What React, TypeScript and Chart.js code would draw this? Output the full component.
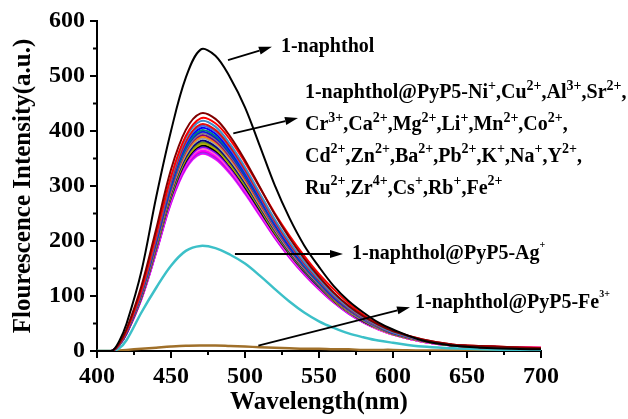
import React, { useEffect, useRef } from 'react';
import { Chart, registerables } from 'chart.js';

Chart.register(...registerables);

// ---------- data ----------
const wavelengths = [400, 410, 415, 420, 430, 440, 450, 460, 470, 480, 490, 500, 510, 520, 530, 540, 550, 560, 570, 580, 590, 600, 620, 640, 660, 680, 700];

const naphthol = [0, 0, 18, 50, 145, 280, 400, 497, 548, 537, 497, 443, 373, 302, 242, 192, 153, 118, 91, 70, 52, 39, 19, 10, 6, 4, 3];
const agPlus = [0, 0, 5, 20, 70, 115, 155, 182, 191, 187, 175, 159, 137, 113, 90, 70, 54, 42, 32, 25, 19, 15, 8, 5, 3, 2, 2];
const fe3Plus = [0, 0, 1, 2, 4, 6, 8, 9.5, 10, 10, 9, 8, 7, 6, 5, 4, 4, 3, 3, 2, 2, 2, 1, 1, 1, 1, 1];

const ionNi = [0, 0, 14, 40, 118, 222, 330, 402, 432, 422, 390, 347, 298, 249, 206, 168, 135, 106, 82, 63, 48, 36, 21, 12, 9, 7, 5];
const ionCu = [0, 0, 13, 37, 111, 212, 317, 391, 423, 414, 384, 343, 297, 251, 210, 173, 140, 112, 87, 66, 50, 37, 21, 12, 9, 7, 6];
const ionAl = [0, 0, 13, 37, 110, 209, 313, 387, 418, 408, 376, 334, 287, 240, 199, 162, 131, 102, 79, 61, 46, 34, 20, 11, 8, 6, 5];
const ionSr = [0, 0, 12, 36, 108, 206, 309, 381, 412, 402, 371, 330, 283, 237, 196, 160, 129, 101, 78, 60, 45, 34, 19, 11, 8, 6, 5];
const ionCr = [0, 0, 12, 36, 107, 204, 307, 378, 409, 399, 368, 327, 281, 235, 194, 158, 128, 100, 78, 59, 45, 34, 19, 11, 8, 6, 5];
const ionCa = [0, 0, 12, 35, 106, 202, 304, 375, 405, 395, 364, 324, 278, 233, 192, 157, 127, 99, 77, 59, 45, 33, 19, 11, 8, 6, 5];
const ionMg = [0, 0, 12, 35, 105, 200, 300, 370, 401, 391, 361, 321, 276, 231, 191, 155, 125, 98, 76, 58, 44, 33, 19, 11, 8, 6, 5];
const ionLi = [0, 0, 12, 35, 104, 199, 298, 368, 398, 388, 358, 318, 274, 229, 189, 154, 124, 97, 76, 58, 44, 33, 19, 11, 8, 6, 5];
const ionMn = [0, 0, 12, 35, 104, 198, 296, 365, 395, 385, 355, 316, 272, 227, 188, 153, 123, 97, 75, 57, 43, 33, 19, 11, 8, 6, 5];
const ionCo = [0, 0, 12, 34, 103, 196, 294, 363, 392, 382, 353, 314, 270, 225, 186, 152, 123, 96, 74, 57, 43, 32, 19, 11, 8, 6, 5];
const ionCd = [0, 0, 12, 34, 102, 195, 292, 360, 389, 379, 350, 311, 267, 224, 185, 151, 122, 95, 74, 56, 43, 32, 18, 11, 8, 6, 5];
const ionZn = [0, 0, 11, 34, 101, 193, 290, 357, 386, 376, 347, 309, 265, 222, 183, 150, 121, 95, 73, 56, 42, 32, 18, 11, 8, 6, 5];
const ionBa = [0, 0, 11, 33, 100, 191, 287, 353, 382, 372, 344, 306, 263, 220, 181, 148, 119, 94, 73, 55, 42, 32, 18, 11, 8, 6, 5];
const ionPb = [0, 0, 11, 33, 99, 190, 284, 351, 379, 370, 341, 303, 261, 218, 180, 147, 118, 93, 72, 55, 42, 31, 18, 10, 8, 6, 5];
const ionK = [0, 0, 11, 33, 99, 188, 282, 348, 376, 367, 338, 301, 259, 216, 179, 146, 118, 92, 71, 55, 41, 31, 18, 10, 7, 6, 5];
const ionNa = [0, 0, 11, 33, 98, 187, 280, 345, 373, 364, 336, 298, 256, 214, 177, 145, 117, 91, 71, 54, 41, 31, 18, 10, 7, 6, 5];
const ionY = [0, 0, 11, 32, 97, 185, 277, 342, 370, 361, 333, 296, 254, 213, 176, 143, 116, 91, 70, 54, 41, 31, 18, 10, 7, 6, 5];
const ionRu = [0, 0, 11, 32, 96, 184, 275, 340, 367, 358, 330, 294, 252, 211, 174, 142, 115, 90, 70, 53, 40, 30, 17, 10, 7, 6, 6];
const ionZr = [0, 0, 11, 32, 96, 182, 273, 337, 364, 355, 328, 291, 250, 209, 173, 141, 114, 89, 69, 53, 40, 30, 17, 10, 8, 7, 6];
const ionCs = [0, 0, 11, 32, 95, 181, 272, 335, 362, 353, 326, 290, 249, 208, 172, 140, 113, 89, 69, 52, 40, 30, 17, 10, 7, 6, 5];
const ionRb = [0, 0, 11, 32, 95, 180, 270, 333, 360, 351, 324, 288, 248, 207, 171, 140, 113, 88, 68, 52, 40, 30, 17, 10, 7, 6, 5];
const ionFe2 = [0, 0, 11, 31, 94, 179, 269, 331, 358, 349, 322, 286, 246, 206, 170, 139, 112, 88, 68, 52, 39, 30, 17, 10, 8, 7, 6];

const ionNames = ['Ni+', 'Cu2+', 'Al3+', 'Sr2+', 'Cr3+', 'Ca2+', 'Mg2+', 'Li+', 'Mn2+', 'Co2+', 'Cd2+', 'Zn2+', 'Ba2+', 'Pb2+', 'K+', 'Na+', 'Y2+', 'Ru2+', 'Zr4+', 'Cs+', 'Rb+', 'Fe2+'];
const ionSeries = [ionNi, ionCu, ionAl, ionSr, ionCr, ionCa, ionMg, ionLi, ionMn, ionCo, ionCd, ionZn, ionBa, ionPb, ionK, ionNa, ionY, ionRu, ionZr, ionCs, ionRb, ionFe2];
const ionColors = ['#800000', '#FF0000', '#3D8EC9', '#E01010', '#4169E1', '#0000FF', '#008080', '#1010E0', '#808080', '#800080', '#FF8000', '#A0A0A0', '#000080', '#6B8E23', '#B8B000', '#000000', '#8000FF', '#FF66CC', '#FF00FF', '#CC00CC', '#9933FF', '#FF00FF'];

const xTicks = [400, 450, 500, 550, 600, 650, 700];
const yTicks = [0, 100, 200, 300, 400, 500, 600];
const xMinorTicks = [425, 475, 525, 575, 625, 675];
const yMinorTicks = [50, 150, 250, 350, 450, 550];

const xTitle = 'Wavelength(nm)';
const yTitle = 'Flourescence Intensity(a.u.)';

// annotation texts: [text, isSuperscript]
const naphLabel: [string, boolean][] = [['1-naphthol', false]];
const ionLabelLines: [string, boolean][][] = [
  [['1-naphthol@PyP5-Ni', false], ['+', true], [',Cu', false], ['2+', true], [',Al', false], ['3+', true], [',Sr', false], ['2+', true], [',', false]],
  [['Cr', false], ['3+', true], [',Ca', false], ['2+', true], [',Mg', false], ['2+', true], [',Li', false], ['+', true], [',Mn', false], ['2+', true], [',Co', false], ['2+', true], [',', false]],
  [['Cd', false], ['2+', true], [',Zn', false], ['2+', true], [',Ba', false], ['2+', true], [',Pb', false], ['2+', true], [',K', false], ['+', true], [',Na', false], ['+', true], [',Y', false], ['2+', true], [',', false]],
  [['Ru', false], ['2+', true], [',Zr', false], ['4+', true], [',Cs', false], ['+', true], [',Rb', false], ['+', true], [',Fe', false], ['2+', true]],
];
const agLabel: [string, boolean][] = [['1-naphthol@PyP5-Ag', false], ['+', true]];
const feLabel: [string, boolean][] = [['1-naphthol@PyP5-Fe', false], ['3+', true]];

// annotation anchors in data units [wavelength, intensity]
const naphArrow = [[488.5, 529], [518.2, 553]];
const naphTextAt = [524.3, 553];
const ionArrow = [[492.1, 395.8], [535.8, 423.6]];
const ionTextAt = [540.5, 468.5];
const agArrow = [[493.2, 176.4], [566.2, 176.4]];
const agTextAt = [572.3, 176.4];
const feArrow = [[509, 9.6], [611.5, 79.5]];
const feTextAt = [614.9, 86.7];

// ---------- styles ----------
const FONT = "'Liberation Serif', 'Times New Roman', serif";

function drawArrow(ctx: CanvasRenderingContext2D, x1: number, y1: number, x2: number, y2: number) {
  const ang = Math.atan2(y2 - y1, x2 - x1);
  const len = 13;
  const hw = 4;
  const bx = x2 - len * Math.cos(ang);
  const by = y2 - len * Math.sin(ang);
  ctx.beginPath();
  ctx.moveTo(x1, y1);
  ctx.lineTo(bx, by);
  ctx.lineWidth = 1.8;
  ctx.strokeStyle = '#000';
  ctx.stroke();
  ctx.beginPath();
  ctx.moveTo(x2, y2);
  ctx.lineTo(bx + hw * Math.sin(ang), by - hw * Math.cos(ang));
  ctx.lineTo(bx - hw * Math.sin(ang), by + hw * Math.cos(ang));
  ctx.closePath();
  ctx.fillStyle = '#000';
  ctx.fill();
}

function drawRich(ctx: CanvasRenderingContext2D, segs: [string, boolean][], x: number, y: number, size: number, supSize: number, raise: number) {
  let cx = x;
  ctx.fillStyle = '#000';
  ctx.textAlign = 'left';
  ctx.textBaseline = 'middle';
  for (const [t, sup] of segs) {
    ctx.font = `bold ${sup ? supSize : size}px ${FONT}`;
    ctx.fillText(t, cx, sup ? y - raise : y);
    cx += ctx.measureText(t).width;
  }
}

const annotationPlugin = {
  id: 'annotations',
  afterDraw(chart: any) {
    const { ctx } = chart;
    const xs = chart.scales.x;
    const ys = chart.scales.y;
    const px = (v: number) => xs.getPixelForValue(v);
    const py = (v: number) => ys.getPixelForValue(v);
    ctx.save();
    ctx.strokeStyle = '#000';
    ctx.lineWidth = 2;
    for (const v of xMinorTicks) {
      ctx.beginPath();
      ctx.moveTo(px(v), ys.bottom);
      ctx.lineTo(px(v), ys.bottom + 4);
      ctx.stroke();
    }
    for (const v of yMinorTicks) {
      ctx.beginPath();
      ctx.moveTo(xs.left, py(v));
      ctx.lineTo(xs.left - 4, py(v));
      ctx.stroke();
    }
    for (const a of [naphArrow, ionArrow, agArrow, feArrow]) {
      drawArrow(ctx, px(a[0][0]), py(a[0][1]), px(a[1][0]), py(a[1][1]));
    }
    drawRich(ctx, naphLabel, px(naphTextAt[0]), py(naphTextAt[1]), 20, 14, 7);
    ionLabelLines.forEach((line, i) => {
      drawRich(ctx, line, px(ionTextAt[0]), py(ionTextAt[1]) + i * 31.7, 20, 14, 7);
    });
    drawRich(ctx, agLabel, px(agTextAt[0]), py(agTextAt[1]), 20, 10, 9);
    drawRich(ctx, feLabel, px(feTextAt[0]), py(feTextAt[1]), 20, 10, 9);
    ctx.restore();
  },
};

function series(label: string, values: number[], color: string, width = 2) {
  return {
    label,
    data: wavelengths.map((w, i) => ({ x: w, y: values[i] })),
    borderColor: color,
    backgroundColor: color,
    borderWidth: width,
    pointRadius: 0,
    fill: false,
    tension: 0.35,
  };
}

export default function App() {
  const canvasRef = useRef<HTMLCanvasElement | null>(null);

  useEffect(() => {
    if (!canvasRef.current) return;
    const datasets = [
      series('1-naphthol', naphthol, '#000000', 2),
      ...ionSeries.map((s, i) => series('1-naphthol@PyP5-' + ionNames[i], s, ionColors[i], 2)),
      series('1-naphthol@PyP5-Ag+', agPlus, '#3CC0C8', 2.5),
      series('1-naphthol@PyP5-Fe3+', fe3Plus, '#A0702A', 2.5),
    ];
    const tickFont = { family: FONT, size: 24, weight: 'bold' as const };
    const titleFont = { family: FONT, size: 25, weight: 'bold' as const };
    const chart = new Chart(canvasRef.current, {
      type: 'line',
      data: { datasets },
      options: {
        animation: false,
        responsive: true,
        maintainAspectRatio: false,
        devicePixelRatio: 1,
        layout: { padding: { top: 21, right: 87, left: 0, bottom: 0 } },
        plugins: { legend: { display: false }, tooltip: { enabled: false } },
        scales: {
          x: {
            type: 'linear',
            min: 400,
            max: 700,
            afterBuildTicks: (s: any) => { s.ticks = xTicks.map((v) => ({ value: v })); },
            afterFit: (s: any) => { s.height = 68; },
            ticks: { autoSkip: false, maxRotation: 0, color: '#000', font: tickFont, padding: 4 },
            grid: { drawOnChartArea: false, drawTicks: true, tickLength: 7, color: '#000', lineWidth: 2 },
            border: { display: true, color: '#000', width: 2 },
            title: { display: true, text: xTitle, color: '#000', font: titleFont, padding: { top: 0, bottom: 1 } },
          },
          y: {
            type: 'linear',
            min: 0,
            max: 600,
            afterBuildTicks: (s: any) => { s.ticks = yTicks.map((v) => ({ value: v })); },
            afterFit: (s: any) => { s.width = 97; },
            ticks: { autoSkip: false, color: '#000', font: tickFont, padding: 5 },
            grid: { drawOnChartArea: false, drawTicks: true, tickLength: 7, color: '#000', lineWidth: 2 },
            border: { display: true, color: '#000', width: 2 },
            title: { display: true, text: yTitle, color: '#000', font: titleFont, padding: { top: 9, bottom: 0 } },
          },
        },
      },
      plugins: [annotationPlugin],
    });
    return () => chart.destroy();
  }, []);

  return (
    <div style={{ position: 'fixed', left: 0, top: 0, width: 628, height: 419, background: '#fff' }}>
      <canvas ref={canvasRef} />
    </div>
  );
}
